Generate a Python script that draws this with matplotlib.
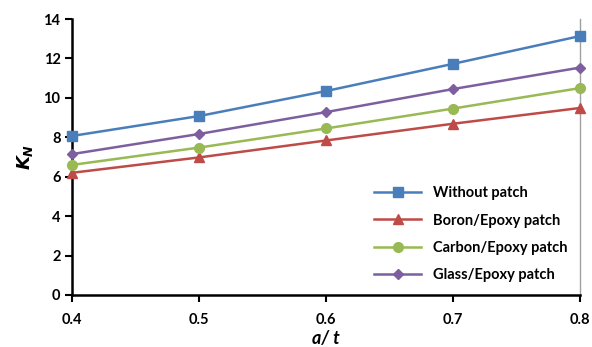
import matplotlib
matplotlib.use('Agg')
import matplotlib.pyplot as plt

plt.rcParams['font.family'] = ['Lato', 'DejaVu Sans']
plt.rcParams['font.weight'] = 'bold'
plt.rcParams['mathtext.fontset'] = 'custom'
plt.rcParams['mathtext.it'] = 'DejaVu Sans:italic:bold'
plt.rcParams['mathtext.rm'] = 'DejaVu Sans:bold'

a_t = [0.4, 0.5, 0.6, 0.7, 0.8]
without_patch = [8.07, 9.08, 10.35, 11.73, 13.14]
boron_epoxy = [6.20, 6.98, 7.84, 8.69, 9.49]
carbon_epoxy = [6.60, 7.48, 8.45, 9.46, 10.50]
glass_epoxy = [7.15, 8.17, 9.28, 10.45, 11.54]

fig = plt.figure(figsize=(5.92, 3.47), dpi=100)
ax = fig.add_axes([0.122, 0.15, 0.858, 0.795])

ax.plot(a_t, without_patch, color='#4a7ebb', marker='s', markersize=7, linewidth=1.8, label='Without patch', clip_on=False, zorder=5)
ax.plot(a_t, boron_epoxy, color='#be4b48', marker='^', markersize=7, linewidth=1.8, label='Boron/Epoxy patch', clip_on=False, zorder=5)
ax.plot(a_t, carbon_epoxy, color='#98b954', marker='o', markersize=7, linewidth=1.8, label='Carbon/Epoxy patch', clip_on=False, zorder=5)
ax.plot(a_t, glass_epoxy, color='#7d5fa0', marker='D', markersize=5, linewidth=1.8, label='Glass/Epoxy patch', clip_on=False, zorder=5)

ax.set_xlim(0.4, 0.8)
ax.set_ylim(0, 14)
ax.set_xticks(a_t)
ax.set_xticklabels(['0.4', '0.5', '0.6', '0.7', '0.8'])
ax.set_yticks(range(0, 15, 2))

for side in ['left', 'bottom']:
    ax.spines[side].set_linewidth(1.8)
    ax.spines[side].set_color('black')
ax.spines['top'].set_visible(False)
ax.spines['right'].set_color('#a0a0a0')
ax.spines['right'].set_linewidth(1.0)

ax.tick_params(axis='both', direction='out', length=5, width=1.5, labelsize=10.5)
ax.tick_params(axis='x', pad=8)

ax.set_xlabel('a/ t', fontsize=13, fontstyle='italic', fontweight='bold', labelpad=2)
ax.set_ylabel('$K_N$', fontsize=13, labelpad=6)

ax.legend(loc='lower right', bbox_to_anchor=(1.0, 0.0), frameon=False, fontsize=10.5,
          handlelength=3.2, labelspacing=0.9)

plt.savefig('out.png', dpi=100)
plt.close()
